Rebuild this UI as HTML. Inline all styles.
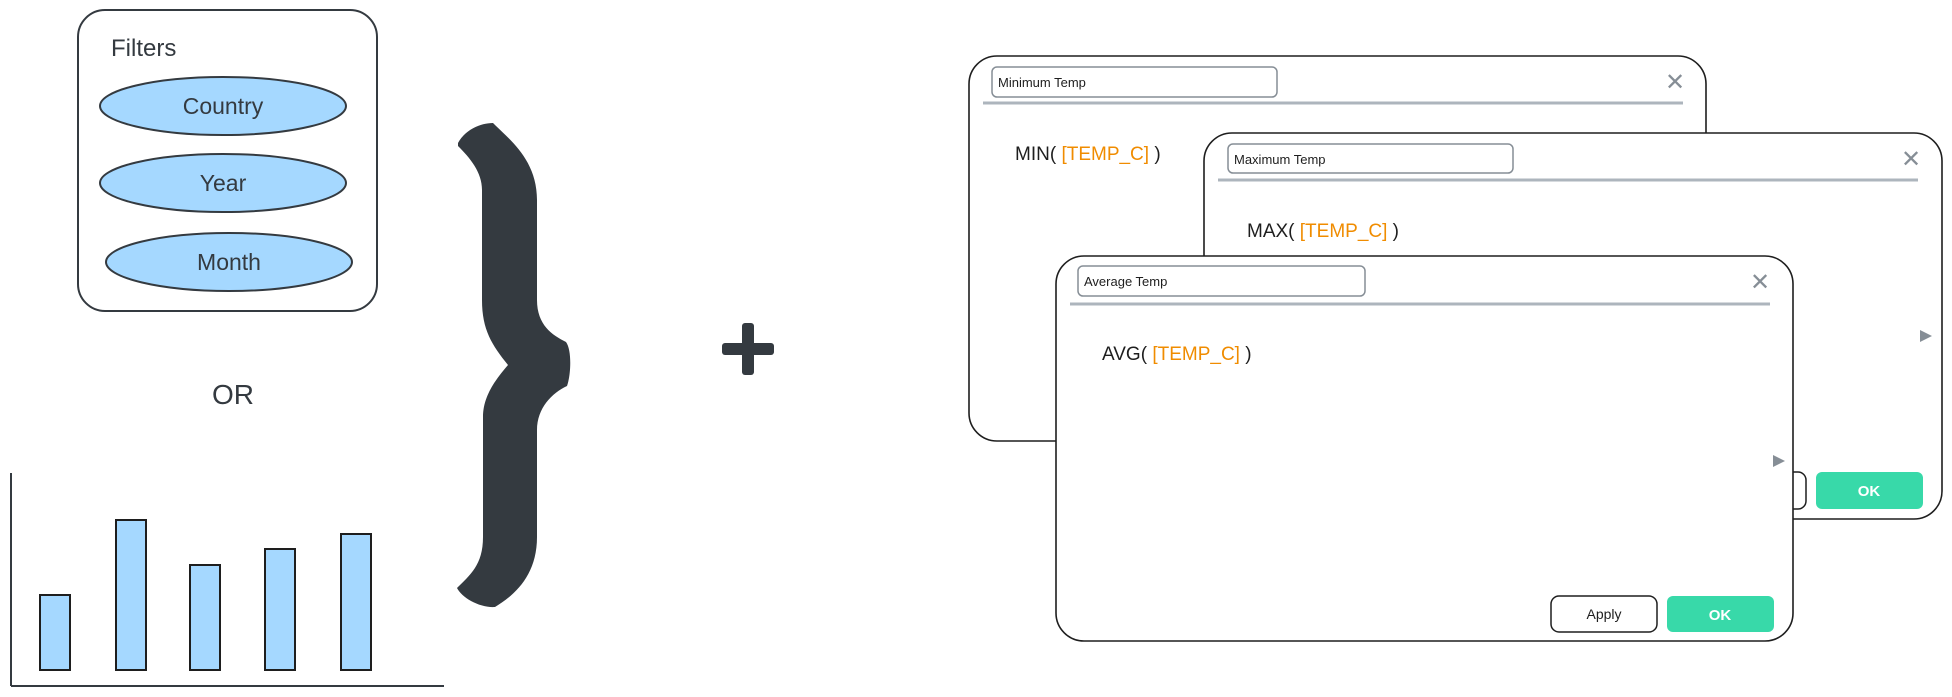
<!DOCTYPE html>
<html><head><meta charset="utf-8"><style>
html,body{margin:0;padding:0;background:#fff;}
svg{display:block;}
text{font-family:"Liberation Sans",sans-serif;}
</style></head><body>
<svg width="1952" height="697" viewBox="0 0 1952 697" xmlns="http://www.w3.org/2000/svg">
<!-- Filters box -->
<rect x="78" y="10" width="299" height="301" rx="27" fill="#fff" stroke="#343a40" stroke-width="2"/>
<text x="111" y="56" font-size="24" fill="#343a40">Filters</text>
<ellipse cx="223" cy="106" rx="123" ry="29" fill="#a5d8ff" stroke="#343a40" stroke-width="2"/>
<text x="223" y="114" font-size="23" fill="#343a40" text-anchor="middle">Country</text>
<ellipse cx="223" cy="183" rx="123" ry="29" fill="#a5d8ff" stroke="#343a40" stroke-width="2"/>
<text x="223" y="191" font-size="23" fill="#343a40" text-anchor="middle">Year</text>
<ellipse cx="229" cy="262" rx="123" ry="29" fill="#a5d8ff" stroke="#343a40" stroke-width="2"/>
<text x="229" y="270" font-size="23" fill="#343a40" text-anchor="middle">Month</text>
<text x="233" y="404" font-size="28" fill="#343a40" text-anchor="middle">OR</text>
<!-- Bar chart -->
<line x1="11" y1="473" x2="11" y2="686" stroke="#343a40" stroke-width="2"/>
<line x1="11" y1="686" x2="444" y2="686" stroke="#343a40" stroke-width="2"/>
<g fill="#a5d8ff" stroke="#1e1e1e" stroke-width="2">
<rect x="40" y="595" width="30" height="75"/>
<rect x="116" y="520" width="30" height="150"/>
<rect x="190" y="565" width="30" height="105"/>
<rect x="265" y="549" width="30" height="121"/>
<rect x="341" y="534" width="30" height="136"/>
</g>
<!-- Brace -->
<path d="M458,143 C465,130 480,123 493,123 C510,140 537,160 537,200 L537,300 C537,325 552,335 566,342 C572,350 571,375 567,386 C552,393 537,408 537,430 L537,537 C537,575 515,595 495,607 C480,608 462,598 457,588 C470,575 483,565 483,537 L483,417 C483,395 497,378 508,365 C492,345 482,330 482,300 L482,190 C482,172 470,158 458,146 Z" fill="#343a40"/>
<!-- Plus -->
<rect x="742" y="323" width="12" height="52" rx="3" fill="#343a40"/>
<rect x="722" y="343" width="52" height="12" rx="3" fill="#343a40"/>
<!-- Min window -->
<rect x="969" y="56" width="737" height="385" rx="28" fill="#fff" stroke="#1e1e1e" stroke-width="1.6"/>
<rect x="992" y="67" width="285" height="30" rx="5" fill="#fff" stroke="#868e96" stroke-width="1.5"/>
<text x="998" y="87" font-size="13" fill="#1e1e1e">Minimum Temp</text>
<text x="1675" y="90" font-size="24" fill="#868e96" text-anchor="middle">✕</text>
<line x1="983" y1="103" x2="1683" y2="103" stroke="#adb5bd" stroke-width="3"/>
<text x="1015" y="160" font-size="19" fill="#1e1e1e">MIN( <tspan fill="#f08c00">[TEMP_C]</tspan> )</text>
<!-- Max window -->
<rect x="1204" y="133" width="738" height="386" rx="28" fill="#fff" stroke="#1e1e1e" stroke-width="1.6"/>
<rect x="1228" y="144" width="285" height="29" rx="5" fill="#fff" stroke="#868e96" stroke-width="1.5"/>
<text x="1234" y="164" font-size="13" fill="#1e1e1e">Maximum Temp</text>
<text x="1911" y="167" font-size="24" fill="#868e96" text-anchor="middle">✕</text>
<line x1="1218" y1="180" x2="1918" y2="180" stroke="#adb5bd" stroke-width="3"/>
<text x="1247" y="237" font-size="19" fill="#1e1e1e">MAX( <tspan fill="#f08c00">[TEMP_C]</tspan> )</text>
<path d="M1920,330 L1932,336 L1920,342 Z" fill="#868e96"/>
<rect x="1700" y="472" width="106" height="37" rx="8" fill="#fff" stroke="#1e1e1e" stroke-width="1.5"/>
<rect x="1816" y="472" width="107" height="37" rx="6" fill="#38d9a9"/>
<text x="1869" y="496" font-size="15" font-weight="bold" fill="#fff" text-anchor="middle">OK</text>
<!-- Avg window -->
<rect x="1056" y="256" width="737" height="385" rx="28" fill="#fff" stroke="#1e1e1e" stroke-width="1.6"/>
<rect x="1078" y="266" width="287" height="30" rx="5" fill="#fff" stroke="#868e96" stroke-width="1.5"/>
<text x="1084" y="286" font-size="13" fill="#1e1e1e">Average Temp</text>
<text x="1760" y="290" font-size="24" fill="#868e96" text-anchor="middle">✕</text>
<line x1="1070" y1="304" x2="1770" y2="304" stroke="#adb5bd" stroke-width="3"/>
<text x="1102" y="360" font-size="19" fill="#1e1e1e">AVG( <tspan fill="#f08c00">[TEMP_C]</tspan> )</text>
<path d="M1773,455 L1785,461 L1773,467 Z" fill="#868e96"/>
<rect x="1551" y="596" width="106" height="36" rx="8" fill="#fff" stroke="#1e1e1e" stroke-width="1.5"/>
<text x="1604" y="619" font-size="14" fill="#1e1e1e" text-anchor="middle">Apply</text>
<rect x="1667" y="596" width="107" height="36" rx="6" fill="#38d9a9"/>
<text x="1720" y="620" font-size="15" font-weight="bold" fill="#fff" text-anchor="middle">OK</text>
</svg>
</body></html>
